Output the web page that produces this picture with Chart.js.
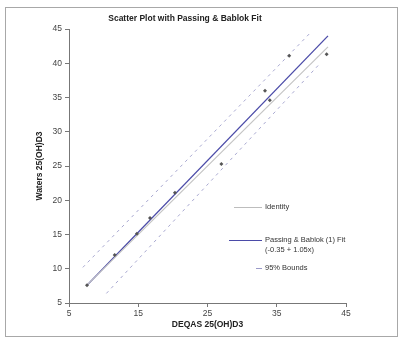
<!DOCTYPE html>
<html lang="en">
<head>
    <meta charset="UTF-8">
    <title>Scatter Plot with Passing & Bablok Fit</title>
    <script src="https://cdn.jsdelivr.net/npm/chart.js"></script>
    <style>
      body { margin: 0; background: #fff; font-family: "Liberation Sans", Arial, sans-serif; }
      #wrap { position: relative; width: 404px; height: 342px; }
      #frame { position: absolute; left: 5px; top: 7px; width: 393px; height: 330px; border: 1px solid #a8a8a8; box-sizing: border-box; }
      #title { position: absolute; left: 0; width: 370px; top: 13px; text-align: center; font-size: 8.5px; font-weight: bold; color: #222; }
      .lg { position: absolute; font-size: 7.5px; color: #333; line-height: 10px; }
      .sw { position: absolute; height: 0; }
    </style>
</head>
<body>
  <div id="wrap">
    <div id="frame"></div>
    <div style="position:absolute;left:0;top:0;width:404px;height:342px;">
      <canvas id="myChart"></canvas>
    </div>
    <div id="title">Scatter Plot with Passing &amp; Bablok Fit</div>
    <div class="sw" style="left:234px;top:207px;width:28px;border-top:1px solid #bdbdbd;"></div>
    <div class="lg" style="left:265px;top:202px;">Identity</div>
    <div class="sw" style="left:229px;top:240px;width:33px;border-top:1.5px solid #4b4ba8;"></div>
    <div class="lg" style="left:265px;top:235px;">Passing &amp; Bablok (1) Fit<br>(-0.35 + 1.05x)</div>
    <div class="sw" style="left:256px;top:268px;width:6px;border-top:1px dashed #9a9ac8;"></div>
    <div class="lg" style="left:265px;top:263px;">95% Bounds</div>
  </div>

  <script>
    const ctx = document.getElementById('myChart');

    // measured samples (DEQAS vs Waters)
    let pontosX = [7.6, 11.6, 14.8, 16.7, 20.3, 27.0, 33.3, 34.0, 36.8, 42.2]
    let pontosY = [7.6, 12.0, 15.1, 17.4, 21.1, 25.3, 36.0, 34.6, 41.1, 41.3]

    // lines (end points)
    let identX = [7.6, 42.4]
    let identY = [7.6, 42.4]
    let fitX = [7.6, 42.4]
    let fitY = [7.6, 44.0]
    let upperX = [7.0, 40.0]
    let upperY = [10.2, 44.6]
    let lowerX = [10.4, 41.0]
    let lowerY = [6.4, 39.7]

    let ticksX = [5, 15, 25, 35, 45]
    let ticksY = [5, 10, 15, 20, 25, 30, 35, 40, 45]

    const par = (xs, ys) => xs.map((x, i) => ({ x: x, y: ys[i] }))

    let grafico = new Chart(ctx, {
      type: 'scatter',
      data: {
        datasets: [
          { label: 'pontos', data: par(pontosX, pontosY), pointStyle: 'rectRot', pointRadius: 2,
            backgroundColor: '#555', borderColor: '#555', borderWidth: 0 },
          { label: 'Identity', data: par(identX, identY), showLine: true, pointRadius: 0,
            borderColor: '#c4c4c4', borderWidth: 1.2 },
          { label: 'Fit', data: par(fitX, fitY), showLine: true, pointRadius: 0,
            borderColor: '#4b4ba8', borderWidth: 1.3 },
          { label: 'upper', data: par(upperX, upperY), showLine: true, pointRadius: 0,
            borderColor: '#a8a8d0', borderWidth: 1, borderDash: [3, 4] },
          { label: 'lower', data: par(lowerX, lowerY), showLine: true, pointRadius: 0,
            borderColor: '#a8a8d0', borderWidth: 1, borderDash: [3, 4] }
        ]
      },
      options: {
        responsive: true,
        maintainAspectRatio: false,
        animation: false,
        layout: { padding: { left: 33, top: 29, right: 58, bottom: 8 } },
        plugins: { legend: { display: false }, tooltip: { enabled: false } },
        scales: {
          x: {
            type: 'linear', min: 5, max: 45,
            afterBuildTicks: s => { s.ticks = ticksX.map(v => ({ value: v })) },
            afterFit: s => { s.height = 31 },
            grid: { drawOnChartArea: false, tickLength: 4, color: '#777' },
            border: { color: '#777', width: 1 },
            ticks: { color: '#444', font: { size: 8.5, family: 'Liberation Sans' }, padding: 2 },
            title: { display: true, text: 'DEQAS 25(OH)D3', color: '#222',
                     font: { size: 8.5, weight: 'bold', family: 'Liberation Sans' }, padding: { top: 2, bottom: 4 } }
          },
          y: {
            type: 'linear', min: 5, max: 45,
            afterBuildTicks: s => { s.ticks = ticksY.map(v => ({ value: v })) },
            afterFit: s => { s.width = 36 },
            grid: { drawOnChartArea: false, tickLength: 4, color: '#777' },
            border: { color: '#777', width: 1 },
            ticks: { color: '#444', font: { size: 8.5, family: 'Liberation Sans' }, padding: 3 },
            title: { display: true, text: 'Waters 25(OH)D3', color: '#222',
                     font: { size: 8.5, weight: 'bold', family: 'Liberation Sans' }, padding: 2 }
          }
        }
      }
    });
  </script>
</body>
</html>
